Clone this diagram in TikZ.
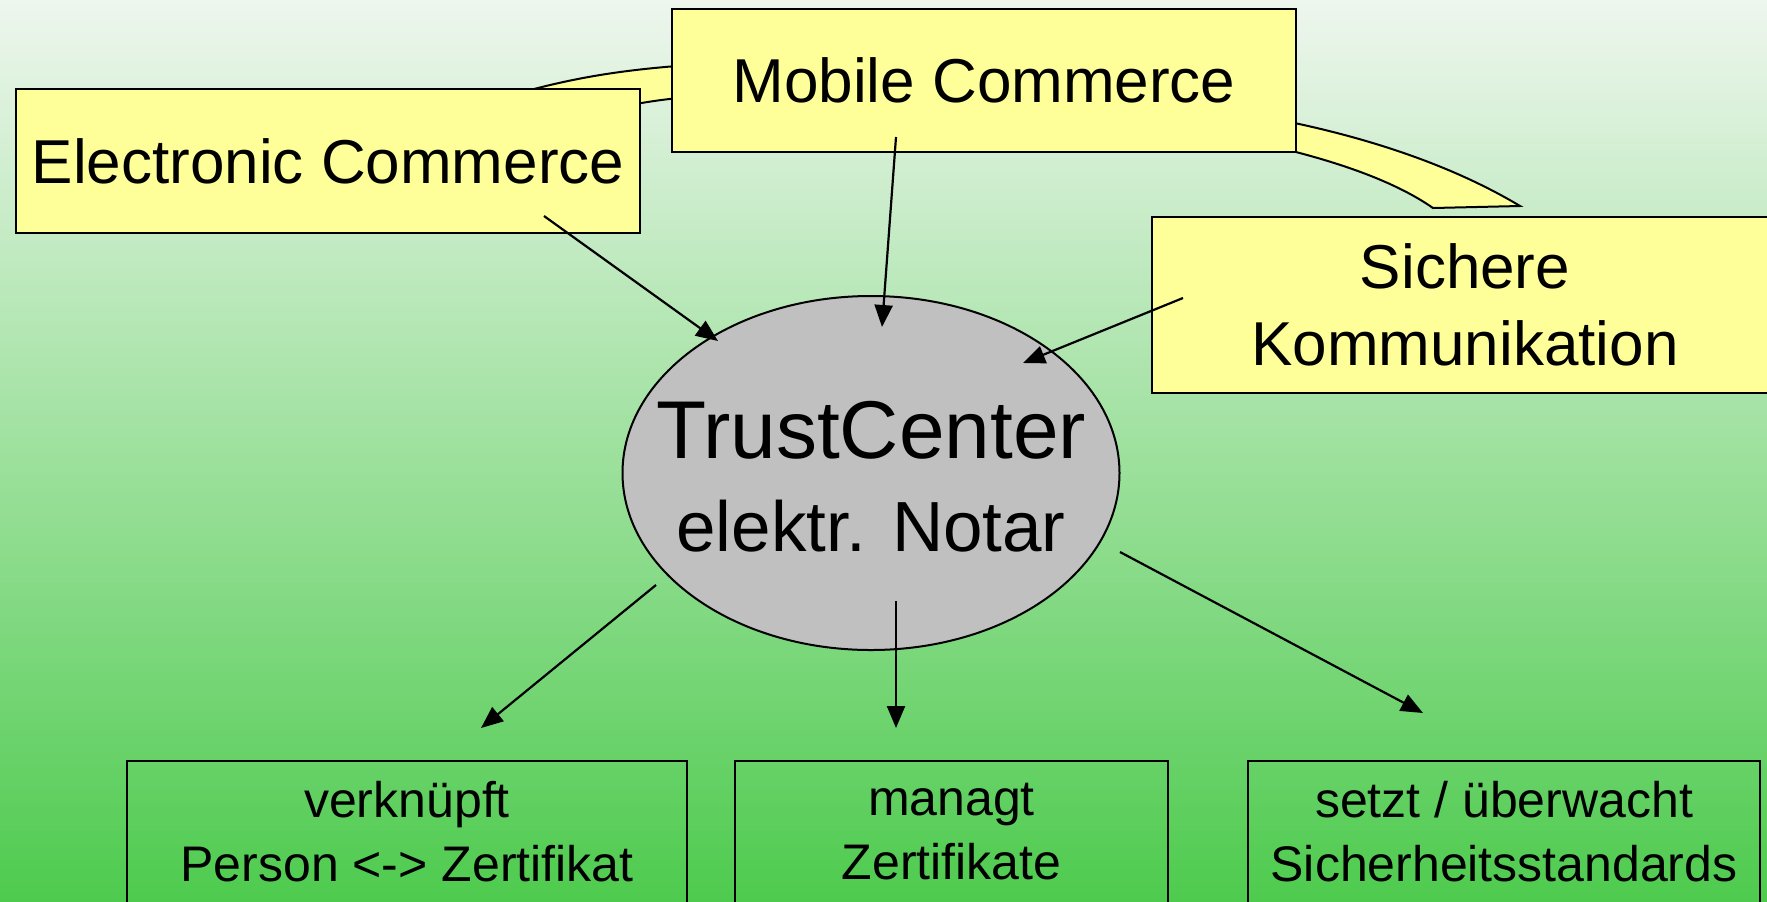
\documentclass[tikz,border=0pt]{standalone}
\usepackage{fontspec}
\setmainfont{Liberation Sans}
\usetikzlibrary{arrows.meta,shapes.geometric,calc}

\definecolor{boxyellow}{RGB}{255,255,153}
\definecolor{hubgray}{RGB}{192,192,192}
\definecolor{bgtop}{RGB}{238,246,238}
\definecolor{bgmid}{RGB}{160,222,160}
\definecolor{bgbottom}{RGB}{78,203,78}

\tikzset{
  topic/.style={draw, line width=1.2pt, fill=boxyellow, inner sep=0pt, align=center, font=\fontsize{31}{38.5}\selectfont},
  task/.style={draw, line width=0.8pt, inner sep=0pt, align=center, minimum height=71pt, font=\fontsize{25}{32}\selectfont},
  hub/.style={ellipse, draw, line width=1pt, fill=hubgray, inner sep=0pt},
  link/.style={-{Triangle[length=11pt,width=9pt]}, line width=1.1pt},
}

\begin{document}
\begin{tikzpicture}[x=0.5pt,y=-0.5pt]

\useasboundingbox (0,0) rectangle (1767,901);
\shade[top color=bgtop, middle color=bgmid, bottom color=bgbottom] (0,0) rectangle (1767,901);
\clip (0,0) rectangle (1767,901);

% band behind the three topics
\draw[fill=boxyellow, line width=1pt] (505,97) .. controls (570,78) and (620,70) .. (690,65) -- (690,97) .. controls (665,99) and (645,102) .. (620,107) -- cycle;
\draw[fill=boxyellow, line width=1pt] (1280,120) .. controls (1380,140) and (1460,170) .. (1520,206) -- (1433,208) .. controls (1400,185) and (1350,165) .. (1280,148) -- cycle;

\node[topic, minimum width=312pt, minimum height=72pt] (ec) at (328,161) {Electronic Commerce};
\node[topic, minimum width=312pt, minimum height=71.5pt] (mc) at (984,80.5) {Mobile Commerce};
\node[topic, minimum width=313pt, minimum height=88pt] (sk) at (1465,305) {Sichere\\Kommunikation};

\node[hub, minimum width=248.5pt, minimum height=177pt] (tc) at (871,473) {};
\node[align=center, inner sep=0pt, font=\fontsize{41}{46.5}\selectfont] (tclabel) at ($(tc.center)+(0,4)$) {TrustCenter\\\fontsize{35.5}{46.5}\selectfont elektr. Notar};

\node[task, minimum width=280pt] (pers) at (407,832) {verknüpft\\Person <-> Zertifikat};
\node[task, minimum width=216.5pt] (cert) at (951.5,832) {managt\\Zertifikate};
\node[task, minimum width=256pt] (std) at (1504,832) {setzt / überwacht\\Sicherheitsstandards};

\draw[link] ($(ec.center)+(216,55)$) -- ($(tc.center)+(-153,-132)$);
\draw[link] ($(mc.center)+(-88,56.5)$) -- ($(tc.center)+(11,-146)$);
\draw[link] ($(sk.center)+(-282,-7)$) -- ($(tc.center)+(152,-110)$);

\draw[link] ($(tc.center)+(-215,112)$) -- ($(pers.center)+(74,-104)$);
\draw[link] ($(tc.center)+(25,128)$) -- ($(cert.center)+(-55.5,-104)$);
\draw[link] ($(tc.center)+(249,79)$) -- ($(std.center)+(-81,-119)$);

\end{tikzpicture}
\end{document}
